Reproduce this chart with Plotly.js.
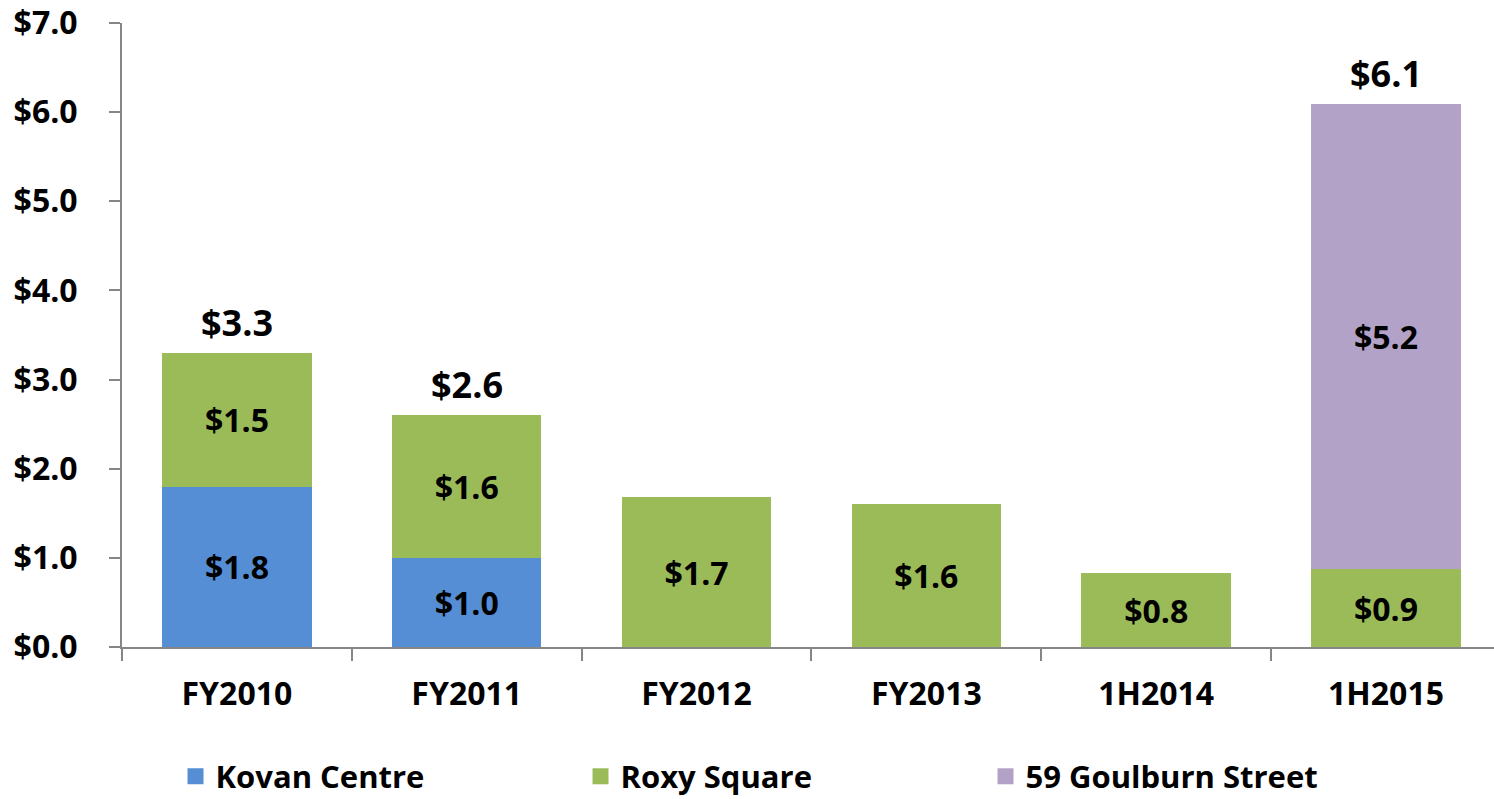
<!DOCTYPE html>
<html>
<head>
<meta charset="utf-8">
<script src="https://cdn.plot.ly/plotly-3.0.1.min.js"></script>
<style>
  html, body { margin: 0; padding: 0; background: #ffffff; }
  #chart { width: 1494px; height: 799px; }
</style>
</head>
<body>
<div id="chart"></div>
<script>
const categories = ["FY2010", "FY2011", "FY2012", "FY2013", "1H2014", "1H2015"];
const kovanCentre = [1.8, 1.0, null, null, null, null];
const roxySquare = [1.5, 1.6, 1.68, 1.6, 0.83, 0.87];
const goulburnStreet = [null, null, null, null, null, 5.22];
const totalLabels = ["$3.3", "$2.6", null, null, null, "$6.1"];
const seriesNames = ["Kovan Centre", "Roxy Square", "59 Goulburn Street"];
const colors = ["#558ED5", "#9BBB59", "#B3A2C7"];

const FONT = "Open Sans, Lato, sans-serif";
const series = [kovanCentre, roxySquare, goulburnStreet];

const traces = series.map((vals, i) => ({
  type: "bar",
  name: seriesNames[i],
  x: categories,
  y: vals,
  marker: { color: colors[i] },
  width: 0.65,
  text: vals.map(v => v == null ? "" : "$" + v.toFixed(1)),
  texttemplate: "%{text}",
  textposition: "inside",
  insidetextanchor: "middle",
  constraintext: "none",
  textfont: { family: FONT, size: 32, color: "#000000", weight: 700 },
  showlegend: false,
  hoverinfo: "skip"
}));

// legend entries with larger square swatches
seriesNames.forEach((n, i) => {
  traces.push({
    type: "scatter",
    mode: "markers",
    name: n,
    x: [null],
    y: [null],
    marker: { symbol: "square", size: 16, color: colors[i] },
    showlegend: true,
    hoverinfo: "skip"
  });
});

const totals = series[0].map((_, j) => series.reduce((s, arr) => s + (arr[j] || 0), 0));
const annotations = categories.map((c, j) => totalLabels[j] ? ({
  x: c,
  y: totals[j],
  xref: "x",
  yref: "y",
  text: totalLabels[j],
  showarrow: false,
  yanchor: "bottom",
  yshift: 4,
  font: { family: FONT, size: 36, color: "#000000", weight: 700 }
}) : null).filter(a => a);

const layout = {
  width: 1494,
  height: 799,
  margin: { l: 122, r: 0, t: 23, b: 152, autoexpand: false },
  paper_bgcolor: "#ffffff",
  plot_bgcolor: "#ffffff",
  barmode: "stack",
  font: { family: FONT, size: 32, color: "#000000", weight: 700 },
  xaxis: {
    type: "category",
    range: [-0.5, 5.47],
    tickson: "boundaries",
    ticks: "outside",
    ticklen: 12,
    tickwidth: 2,
    tickcolor: "#868686",
    showline: true,
    linecolor: "#868686",
    linewidth: 2,
    showgrid: false,
    zeroline: false,
    automargin: false,
    ticklabelstandoff: 18,
    tickfont: { family: FONT, size: 32, color: "#000000", weight: 700 }
  },
  yaxis: {
    range: [0, 7],
    tickvals: [0, 1, 2, 3, 4, 5, 6, 7],
    tickformat: "$.1f",
    ticks: "outside",
    ticklen: 11,
    tickwidth: 2,
    tickcolor: "#868686",
    showline: true,
    linecolor: "#868686",
    linewidth: 2,
    showgrid: false,
    zeroline: false,
    automargin: false,
    ticklabelstandoff: 25,
    tickfont: { family: FONT, size: 32, color: "#000000", weight: 700 }
  },
  legend: {
    orientation: "h",
    traceorder: "normal",
    x: 0.039,
    xanchor: "left",
    yref: "container",
    y: 0.028,
    yanchor: "middle",
    entrywidth: 360,
    font: { family: FONT, size: 31, color: "#000000", weight: 700 },
    itemsizing: "trace",
    bgcolor: "rgba(0,0,0,0)"
  },
  annotations: annotations
};

Plotly.newPlot("chart", traces, layout, { displayModeBar: false, staticPlot: true });
</script>
</body>
</html>
